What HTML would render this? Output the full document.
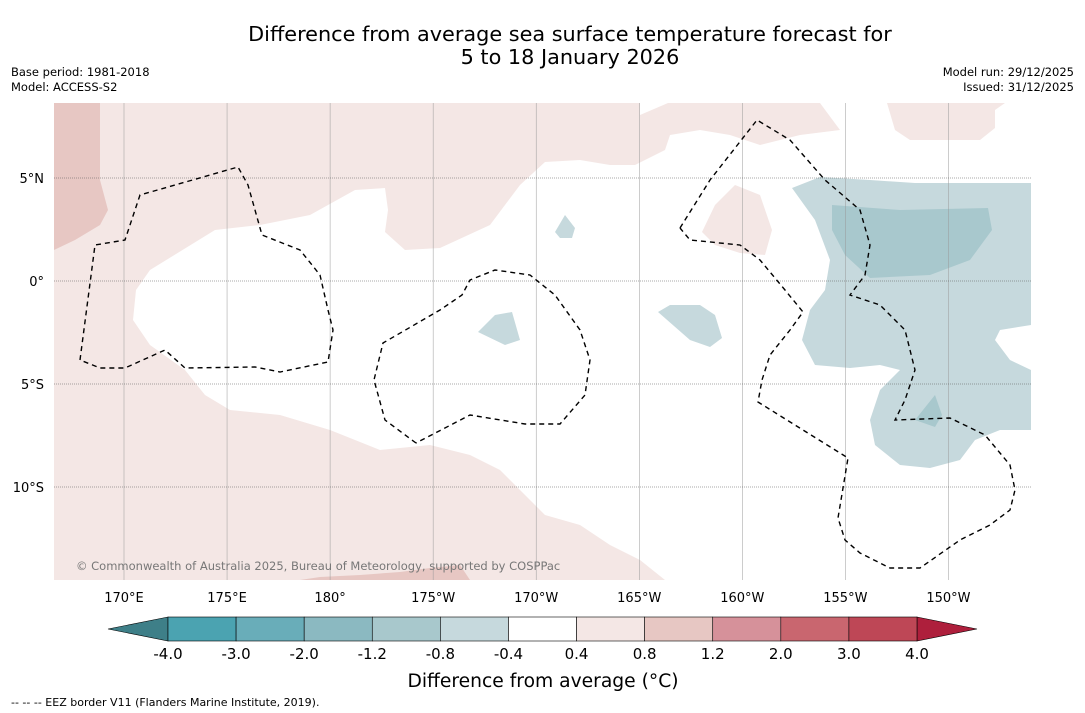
<!DOCTYPE html>
<html><head><meta charset="utf-8"><style>
body{margin:0;background:#fff;font-family:"DejaVu Sans","Liberation Sans",sans-serif;}
svg{display:block}
</style></head><body>
<svg id="chart" width="1085" height="713" viewBox="0 0 1085 713" font-family="DejaVu Sans, Liberation Sans, sans-serif">
<rect width="1085" height="713" fill="#fff"/>
<text x="570" y="41" font-size="20.8" text-anchor="middle">Difference from average sea surface temperature forecast for</text>
<text x="570" y="64" font-size="20.8" text-anchor="middle">5 to 18 January 2026</text>
<text x="11" y="76" font-size="11.5">Base period: 1981-2018</text>
<text x="11" y="91" font-size="11.5">Model: ACCESS-S2</text>
<text x="1074" y="76" font-size="11.5" text-anchor="end">Model run: 29/12/2025</text>
<text x="1074" y="91" font-size="11.5" text-anchor="end">Issued: 31/12/2025</text>
<g>
<clipPath id="mc"><rect x="54" y="103" width="977" height="477"/></clipPath>
<g clip-path="url(#mc)">
<path fill="#f4e7e5" d="M54,103 L640,103 L640,115 L668,103 L820,103 L840,130 L800,135 L760,145 L730,135 L700,130 L670,135 L665,150 L635,165 L610,165 L580,160 L545,162 L520,185 L490,225 L440,248 L405,250 L385,232 L388,210 L385,188 L355,190 L310,215 L260,225 L215,230 L150,270 L136,290 L133,320 L150,345 L185,370 L205,395 L230,410 L280,415 L330,430 L380,450 L430,445 L470,455 L500,470 L545,515 L580,525 L610,545 L640,560 L665,580 L54,580 Z"/>
<path fill="#e7c7c3" d="M54,103 L100,103 L100,180 L108,210 L100,225 L75,240 L54,250 Z M300,580 L320,577 L360,575 L400,572 L430,568 L460,565 L470,580 Z"/>
<path fill="#f4e7e5" d="M735,185 L760,195 L772,230 L765,255 L740,253 L715,245 L702,232 L715,205 Z M887,103 L1005,103 L995,110 L995,128 L980,140 L910,140 L895,130 Z"/>
<path fill="#c6d9dd" d="M792,188 L820,177 L870,180 L915,183 L1031,183 L1031,325 L1000,330 L995,340 L1010,360 L1031,370 L1031,430 L1000,430 L975,440 L960,460 L930,468 L900,465 L875,445 L870,420 L880,390 L900,370 L880,365 L850,368 L815,365 L802,340 L810,310 L825,290 L830,260 L815,220 Z M555,232 L565,215 L575,228 L572,238 L560,238 Z M478,332 L495,315 L512,312 L520,340 L505,345 Z M658,312 L670,305 L700,305 L715,315 L722,338 L710,347 L690,340 Z"/>
<path fill="#a8c8cd" d="M832,205 L900,210 L988,208 L992,230 L970,260 L930,275 L870,278 L845,255 L832,230 Z M915,420 L935,395 L942,415 L935,427 Z"/>
<g id="grid" stroke="#999" stroke-width="0.5"></g>
<g fill="none" stroke="#000" stroke-width="1.4" stroke-dasharray="5,4">
<polyline points="80,360 95,245 125,240 140,195 175,185 238,167 248,185 262,235 300,250 320,275 328,310 333,330 328,362 280,372 255,367 185,368 165,350 125,368 100,368 80,360"/>
<polyline points="416,443 385,420 374,380 383,343 440,310 462,295 470,280 495,270 530,275 555,295 580,330 590,360 585,395 560,424 525,424 470,415 416,443"/>
<polyline points="680,228 710,180 757,120 790,140 825,180 860,210 870,245 865,275 850,295 880,305 905,330 915,370 905,400 895,420 950,418 985,435 1010,465 1015,490 1010,510 990,525 960,540 920,568 890,568 860,553 845,540 838,518 848,458 758,402 762,380 770,355 790,330 803,312 785,290 760,260 740,245 690,240 680,228"/>
</g>
<text x="76" y="570" font-size="11.5" fill="#777">© Commonwealth of Australia 2025, Bureau of Meteorology, supported by COSPPac</text>
</g>
<g id="lonlabels" font-size="13" text-anchor="middle"></g>
<g id="latlabels" font-size="13" text-anchor="end"></g>
</g>
<g id="cbar"></g>
<text x="543" y="687" font-size="18.7" text-anchor="middle">Difference from average (°C)</text>
<text x="11" y="706" font-size="11">--  --  -- EEZ border V11 (Flanders Marine Institute, 2019).</text>
</svg>
<script>
const levels=["-4.0","-3.0","-2.0","-1.2","-0.8","-0.4","0.4","0.8","1.2","2.0","3.0","4.0"];
const binColors=["#4ba3b1","#69adb9","#8bb9c1","#a8c8cc","#c6d9dd","#ffffff","#f4e7e5","#e7c7c3","#d6919a","#c9666f","#be4756"];
const underColor="#3e7f88", overColor="#ae1f3c";
const lonLabels=["170°E","175°E","180°","175°W","170°W","165°W","160°W","155°W","150°W"];
const lonValues=[170,175,180,185,190,195,200,205,210];
const latLabels=["5°N","0°","5°S","10°S"];
const latValues=[5,0,-5,-10];
const NS="http://www.w3.org/2000/svg";
const lonX=l=>124+(l-170)*20.61, latY=l=>281-l*20.6;
function mk(t,a,p){const e=document.createElementNS(NS,t);for(const k in a)e.setAttribute(k,a[k]);p.appendChild(e);return e;}
const grid=document.getElementById('grid');
lonValues.forEach(v=>{const e=mk('line',{x1:lonX(v),x2:lonX(v),y1:103,y2:580},grid);

});
latValues.forEach(v=>{const e=mk('line',{x1:54,x2:1031,y1:latY(v),y2:latY(v),'stroke-dasharray':'1,1',stroke:'#555'},grid);

});
const ll=document.getElementById('lonlabels');
lonLabels.forEach((s,i)=>{const e=mk('text',{x:lonX(lonValues[i]),y:602},ll);e.textContent=s;

});
const la=document.getElementById('latlabels');
latLabels.forEach((s,i)=>{const e=mk('text',{x:44,y:latY(latValues[i])+5},la);e.textContent=s;

});
const cb=document.getElementById('cbar');
const x0=168,x1=917,y0=617,y1=641,w=(x1-x0)/binColors.length;
let t=mk('polygon',{points:`${x0},${y0} 108,629 ${x0},${y1}`,fill:underColor,stroke:'#000','stroke-width':0.6},cb);


t=mk('polygon',{points:`${x1},${y0} 977,629 ${x1},${y1}`,fill:overColor,stroke:'#000','stroke-width':0.6},cb);


binColors.forEach((c,i)=>{const r=mk('rect',{x:x0+i*w,y:y0,width:w,height:y1-y0,fill:c,stroke:'#000','stroke-width':0.6},cb);

});
levels.forEach((s,i)=>{const e=mk('text',{x:x0+i*w,y:659,'font-size':15,'text-anchor':'middle'},cb);e.textContent=s;

});
</script>
</body></html>
